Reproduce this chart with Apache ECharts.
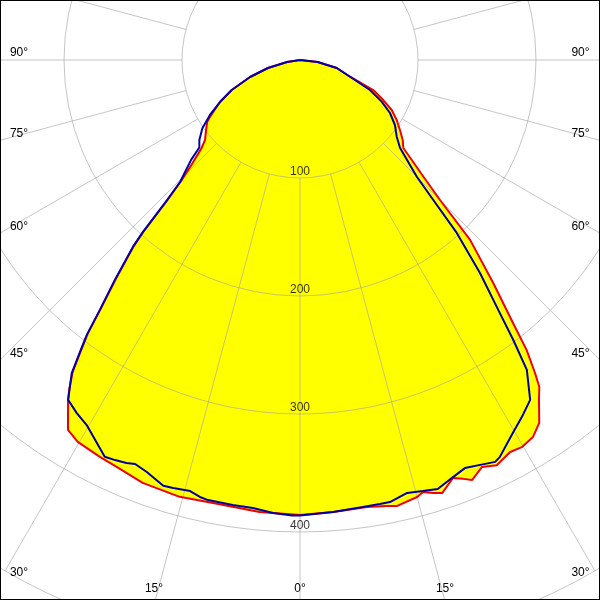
<!DOCTYPE html>
<html>
<head>
<meta charset="utf-8">
<script src="https://cdn.jsdelivr.net/npm/echarts@6/dist/echarts.min.js"></script>
<style>html,body{margin:0;padding:0;background:#fff}#c{width:600px;height:600px}</style>
</head>
<body>
<div id="c"></div>
<script>
// Angles measured from straight down (0°); left and right halves of each curve
var blueLeftAngles = [0, 1, 3.4, 6, 8.6, 11.8, 12.9, 14.3, 16.5, 17.8, 20.4, 22.2, 23.3, 24.8, 26.2, 30.3, 32.3, 34.3, 36.1, 37.0, 37.8, 38.7, 40.1, 41.8, 42.4, 43.5, 44.5, 47.5, 49, 51.5, 55, 58.6, 62.3, 66.3, 71.2, 76, 81, 90];
var blueLeftValues = [386, 386, 384.6, 381.8, 381.4, 381, 379.9, 377, 378.3, 379, 372.5, 369.8, 371.8, 373.5, 374.8, 358.3, 354, 348.7, 328.3, 309.8, 294.8, 271.3, 243.6, 212.5, 197.3, 163.6, 145, 125, 113, 109, 101, 89.4, 76.6, 63.2, 44.7, 28, 11.1, 0];

var blueRightAngles = [0, 4.2, 8.0, 10.2, 11.5, 13.9, 15.9, 17.8, 20.2, 22.0, 24.0, 25.9, 26.7, 29.7, 32.1, 34.1, 36.2, 37.3, 38.3, 40.2, 42.2, 43.6, 45, 48.7, 51.6, 55.6, 59.5, 63, 66.8, 71.5, 77.7, 83.5, 90];
var blueRightValues = [386, 384.1, 382.6, 382.3, 382.3, 378, 379.8, 381.9, 376.4, 373, 375.6, 378.6, 376.7, 364, 355.3, 347.9, 325.5, 298.3, 273.3, 236.3, 197.8, 163.8, 140.2, 112.9, 104.6, 97.5, 88.5, 77.7, 64.5, 44.7, 31.9, 15, 0];

var redLeftAngles = [0, 5.1, 11.1, 15.4, 20.4, 24.2, 26.7, 30.2, 32.1, 34.3, 35, 36.1, 37.0, 37.8, 38.7, 40.1, 41.8, 42.4, 43.5, 44.5, 46, 48.2, 49.9, 53.3, 56.4, 57.8, 62.3, 66.3, 71.2, 76, 81, 90];
var redLeftValues = [385.6, 384.5, 382.6, 384, 382.4, 378.2, 376.7, 374.4, 370, 348.8, 341, 327, 308.5, 293.5, 270, 242, 211, 196, 162, 143.5, 128, 111.8, 105.2, 99.3, 94.4, 90.1, 76.6, 63.2, 44.7, 28, 11.1, 0];

var redRightAngles = [0, 4.2, 8.5, 11.0, 12.3, 15.0, 15.9, 17.1, 18.2, 20.1, 21.3, 22.3, 24.1, 25.9, 28.2, 29.8, 31.7, 33.4, 35.1, 36.2, 36.9, 38.0, 39.0, 40.9, 43.4, 45, 46.6, 49.6, 52.1, 55, 58.2, 61.4, 64.3, 67.7, 71.5, 77.7, 83.5, 90];
var redRightValues = [385.6, 384, 383, 385, 386.8, 383.4, 380.7, 383.9, 386.2, 377.2, 381, 384.6, 377.8, 381.7, 376.9, 378.1, 375.6, 368.3, 352.2, 343.4, 331.7, 312, 287, 250.1, 209.8, 167.8, 144, 115, 110.3, 103.4, 96.4, 88.5, 78.3, 67.1, 44.7, 31.9, 15, 0];

var radiusTicks = [100, 200, 300, 400];
var rayAngles = [0, 15, 30, 45, 60, 75, 90, 105, 120, 135, 150, 165, 180, 195, 210, 225, 240, 255, 270, 285, 300, 315, 330, 345];
var angleLabelsLeft = ['90°', '75°', '60°', '45°', '30°'];
var angleLabelsBottom = ['15°', '0°', '15°'];

function buildCurve(la, lv, ra, rv) {
  var pts = [];
  for (var i = ra.length - 1; i >= 0; i--) pts.push([rv[i], 360 - ra[i]]);
  for (var j = 0; j < la.length; j++) pts.push([lv[j], la[j]]);
  return pts;
}
var redData = buildCurve(redLeftAngles, redLeftValues, redRightAngles, redRightValues);
var blueData = buildCurve(blueLeftAngles, blueLeftValues, blueRightAngles, blueRightValues);

var gridColor = 'rgba(165,160,160,0.62)';
var series = [];
series.push({
  type: 'line', coordinateSystem: 'polar', data: redData, showSymbol: false, silent: true,
  lineStyle: { width: 0, opacity: 0 }, areaStyle: { color: '#ffff00', opacity: 1 }, z: 1, clip: false, animation: false
});
rayAngles.forEach(function (a) {
  series.push({
    type: 'line', coordinateSystem: 'polar', data: [[100, a], [520, a]], showSymbol: false, silent: true,
    lineStyle: { color: gridColor, width: 1 }, z: 2, clip: false, animation: false
  });
});
series.push({
  type: 'line', coordinateSystem: 'polar', data: redData, showSymbol: false, silent: true,
  lineStyle: { color: '#ee0000', width: 2 }, z: 3, clip: false, animation: false
});
series.push({
  type: 'line', coordinateSystem: 'polar', data: blueData, showSymbol: false, silent: true,
  lineStyle: { color: '#0000aa', width: 2 }, z: 4, clip: false, animation: false
});
series.push({
  type: 'scatter', coordinateSystem: 'polar', data: radiusTicks.map(function (r) { return [r, 0]; }),
  symbolSize: 1, itemStyle: { color: 'rgba(0,0,0,0)' }, silent: true, z: 5, animation: false,
  label: { show: true, position: 'top', distance: 0, color: '#000', fontFamily: 'Liberation Sans', fontSize: 12,
    formatter: function (p) { return String(p.value[0]); } }
});

var txtStyle = function (t, x, y) {
  return { type: 'text', x: x, y: y, style: { text: t, fill: '#000', font: '12px "Liberation Sans"', textAlign: 'center', textVerticalAlign: 'middle' }, z: 10 };
};
var leftY = [53, 134, 227, 354, 573];
var graphics = [];
angleLabelsLeft.forEach(function (t, i) {
  graphics.push(txtStyle(t, 19, leftY[i]));
  graphics.push(txtStyle(t, 580.5, leftY[i]));
});
var bottomX = [154, 300, 445];
angleLabelsBottom.forEach(function (t, i) { graphics.push(txtStyle(t, bottomX[i], 589)); });
graphics.push({ type: 'rect', shape: { x: 0, y: 0, width: 600, height: 600 }, style: { fill: 'none', stroke: '#000', lineWidth: 2 }, z: 20, silent: true });

var chart = echarts.init(document.getElementById('c'), null, { renderer: 'canvas' });
chart.setOption({
  animation: false,
  backgroundColor: '#ffffff',
  polar: { center: [300, 60], radius: 590 },
  angleAxis: {
    type: 'value', min: 0, max: 360, startAngle: 270, clockwise: true,
    axisLine: { show: false }, axisTick: { show: false }, axisLabel: { show: false },
    splitLine: { show: false }, splitArea: { show: false }
  },
  radiusAxis: {
    type: 'value', min: 0, max: 500, interval: 100, z: 2,
    axisLine: { show: false }, axisTick: { show: false }, axisLabel: { show: false },
    splitLine: { show: true, lineStyle: { color: gridColor, width: 1 } }, splitArea: { show: false }
  },
  series: series,
  graphic: graphics
});
</script>
</body>
</html>
